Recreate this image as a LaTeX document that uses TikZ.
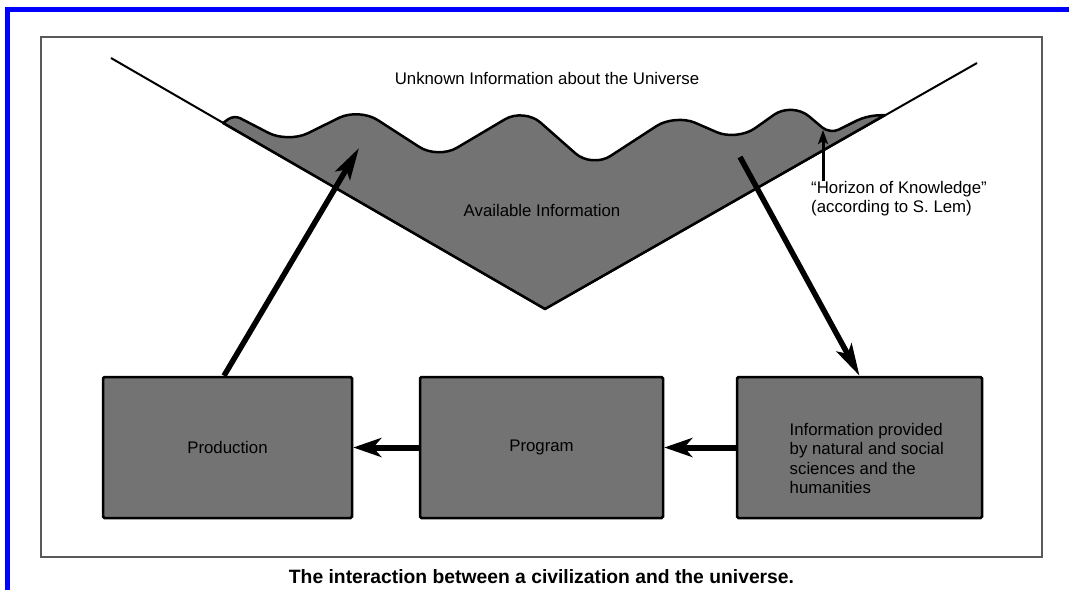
\documentclass[tikz,border=0pt]{standalone}
\usepackage{fontspec}
\setmainfont{Liberation Sans}
\usepackage{tikz}
\usetikzlibrary{arrows.meta, positioning}

\begin{document}
\begin{tikzpicture}[
    x=1pt, y=-1pt,
    every node/.style={font=\fontsize{16.8}{19.5}\selectfont, inner sep=0pt},
    stagebox/.style={draw, line width=2.5pt, fill=black!55, rounded corners=1.5pt, minimum height=141pt},
    mainarrow/.style={line width=5.5pt, -{Stealth[length=32pt, width=17pt, inset=7pt]}},
    flowarrow/.style={line width=6pt, -{Stealth[length=28pt, width=19pt, inset=8pt]}},
    pointer/.style={line width=3pt, -{Stealth[length=14pt, width=10pt, inset=3pt]}}
]
\useasboundingbox (0,0) rectangle (1069,590);

% Page edge and figure frame
\draw[blue, line width=5pt] (7.5,590) -- (7.5,9.5) -- (1069,9.5);
\draw[black!65, line width=1.5pt] (41,37) rectangle (1042,557);

% The V of knowledge
\coordinate (vl) at (111,58);
\coordinate (vb) at (545,309);
\coordinate (vr) at (977,63);

% Available information (wavy horizon)
\filldraw[fill=black!55, line width=2.5pt, line join=round]
    (223,123) [rounded corners=7pt] -- (234,115)
    [rounded corners=22pt] -- (288,143) -- (359,108) -- (438,159)
    -- (524,108) -- (592,168) -- (675,114) -- (737,141) -- (792,102)
    [rounded corners=10pt] -- (830,134) -- (866,116)
    [sharp corners] -- (885,115) -- (vb) -- cycle;
\draw[line width=2pt, line join=miter] (vl) -- (vb) -- (vr);

% Points on the horizon
\coordinate (peak) at (359,148);
\coordinate (trough) at (740,157);
\coordinate (hk) at (823,130);

% Labels
\node (unknown) at (547,78) {Unknown Information about the Universe};
\node (avail) at (542,210) {Available Information};
\node[anchor=north west, align=left] (horizon) at (811,181)
    {``Horizon of Knowledge''\\(according to S. Lem)};

% Boxes
\node[stagebox, minimum width=249pt] (prod) at (227.5,447.5) {Production};
\node[stagebox, minimum width=243pt] (prog) at (541.5,447.5) {Program};
\node[stagebox, minimum width=245pt] (info) at (859.5,447.5) {};
\node[anchor=west, align=left, yshift=-11pt] (infotext) at ([xshift=-70pt]info.center)
    {Information provided\\by natural and social\\sciences and the\\humanities};

% Arrows
\draw[mainarrow] ([xshift=-3.5pt]prod.north) -- (peak);
\draw[mainarrow] (trough) -- (info.north);
\draw[flowarrow] (prog) -- (prod);
\draw[flowarrow] (info) -- (prog);
\draw[pointer] (horizon.north west -| hk) -- (hk);

% Caption
\node[font=\bfseries\fontsize{19.3}{22}\selectfont] (caption) at (541.5,577)
    {The interaction between a civilization and the universe.};
\end{tikzpicture}
\end{document}
